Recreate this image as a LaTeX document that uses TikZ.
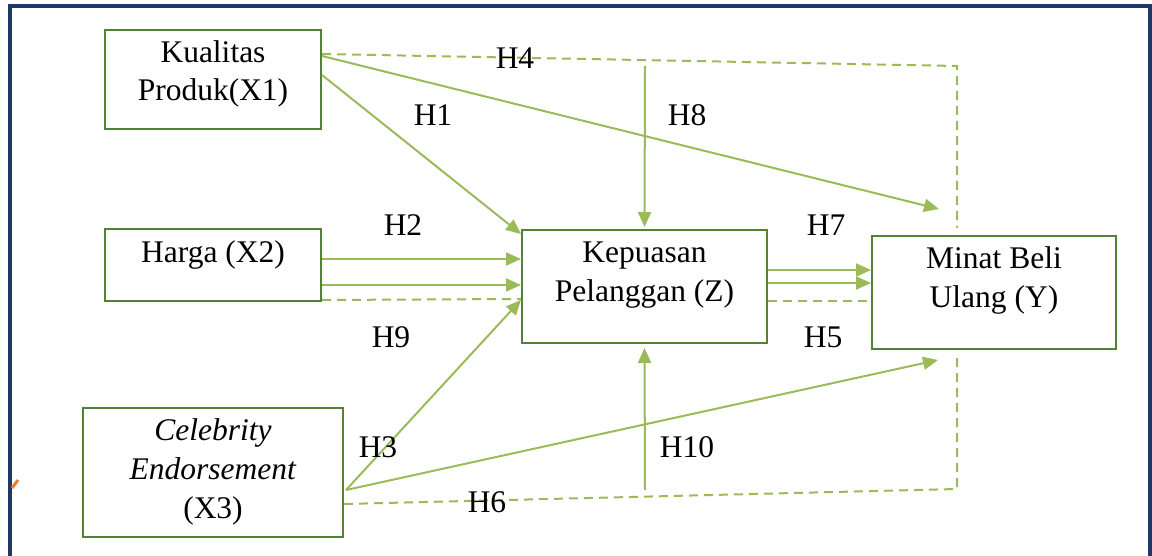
\documentclass[tikz,border=0pt]{standalone}
\usepackage{fontspec}
\setmainfont{Liberation Serif}
\usetikzlibrary{arrows.meta}
\definecolor{boxgreen}{RGB}{84,130,53}
\definecolor{arrgreen}{RGB}{155,187,89}
\definecolor{framenavy}{RGB}{31,56,100}
\definecolor{tickorange}{RGB}{237,125,49}
\tikzset{
	varbox/.style = { draw = boxgreen , line width = 2pt , inner sep = 0pt },
	varname/.style = { font = \fontsize{31.5}{39}\selectfont , align = center , inner sep = 0pt },
	hyp/.style = { font = \fontsize{31.5}{39}\selectfont , inner sep = 0pt },
	link/.style = { draw = arrgreen , line width = 2pt , -{Triangle[length=15pt,width=13pt]} },
	dlink/.style = { draw = arrgreen , line width = 2pt , dash pattern = on 9pt off 6pt },
}
\begin{document}
\begin{tikzpicture}[x = 1pt , y = -1pt]
	\useasboundingbox (0,0) rectangle (1152,556);
	\draw[framenavy , line width = 3.5pt] (10,560) -- (10,6) -- (1150,6) -- (1150,560);
	\draw[tickorange , line width = 3pt] (12,488) -- (18,480);

	\node[varbox , minimum width = 216 , minimum height = 99] (x1) at (213,79.5) {};
	\node[varbox , minimum width = 216 , minimum height = 72] (x2) at (213,265) {};
	\node[varbox , minimum width = 260 , minimum height = 129] (x3) at (213,472.5) {};
	\node[varbox , minimum width = 245 , minimum height = 113] (z) at (644.5,286.5) {};
	\node[varbox , minimum width = 244 , minimum height = 113] (y) at (994,292.5) {};

	\node[varname , font = \fontsize{31.5}{38}\selectfont] (x1txt) at (213,73.5) {Kualitas\\Produk(X1)};
	\node[varname] (x2txt) at (213,255) {Harga (X2)};
	\node[varname] (x3txt) at (213,472) {\textit{Celebrity}\\\textit{Endorsement}\\(X3)};
	\node[varname] (ztxt) at (644.5,275) {Kepuasan\\Pelanggan (Z)};
	\node[varname] (ytxt) at (994,280) {Minat Beli\\Ulang (Y)};

	\coordinate (topbend) at (957,66);
	\coordinate (topend) at (957,228);
	\coordinate (botbend) at (957,489);
	\coordinate (botend) at (957,355);
	\coordinate (h8top) at (645,66);
	\coordinate (h10bot) at (645,490);
	\coordinate (yupper) at (939,209);
	\coordinate (ylower) at (938,360);

	\draw[dlink] ([yshift=-25pt]x1.north east) -- (topbend) -- (topend);
	\draw[link] ([yshift=-46pt]x1.north east) -- ([yshift=-5pt]z.north west);
	\draw[link] ([yshift=-27pt]x1.north east) -- (yupper);
	\draw[link] (h8top) -- ([yshift=2pt]z.north);

	\draw[link] ([yshift=6pt]x2.east) -- ([yshift=27.5pt]z.west);
	\draw[link] ([yshift=-20pt]x2.east) -- ([yshift=1.5pt]z.west);
	\draw[dlink] ([yshift=2pt]x2.south east) -- ([yshift=-12.5pt]z.west);

	\draw[link] ([yshift=16.5pt]z.east) -- ([yshift=22.5pt]y.west);
	\draw[link] ([yshift=3.5pt]z.east) -- ([yshift=9.5pt]y.west);
	\draw[dlink] ([yshift=-14.5pt]z.east) -- ([yshift=-8.5pt]y.west);

	\draw[link] ([xshift=2pt,yshift=-17.5pt]x3.east) -- ([yshift=-13.5pt]z.west);
	\draw[link] ([xshift=2pt,yshift=-17.5pt]x3.east) -- (ylower);
	\draw[dlink] ([yshift=-31.5pt]x3.east) -- (botbend) -- (botend);
	\draw[link] (h10bot) -- ([yshift=-4pt]z.south);

	\node[hyp] (h1) at (433,115) {H1};
	\node[hyp] (h2) at (403,225) {H2};
	\node[hyp] (h3) at (378,447) {H3};
	\node[hyp] (h4) at (515,58) {H4};
	\node[hyp] (h5) at (823,337) {H5};
	\node[hyp] (h6) at (487,502) {H6};
	\node[hyp] (h7) at (826,225) {H7};
	\node[hyp] (h8) at (687,115) {H8};
	\node[hyp] (h9) at (391,337) {H9};
	\node[hyp] (h10) at (687,447) {H10};
\end{tikzpicture}
\end{document}
